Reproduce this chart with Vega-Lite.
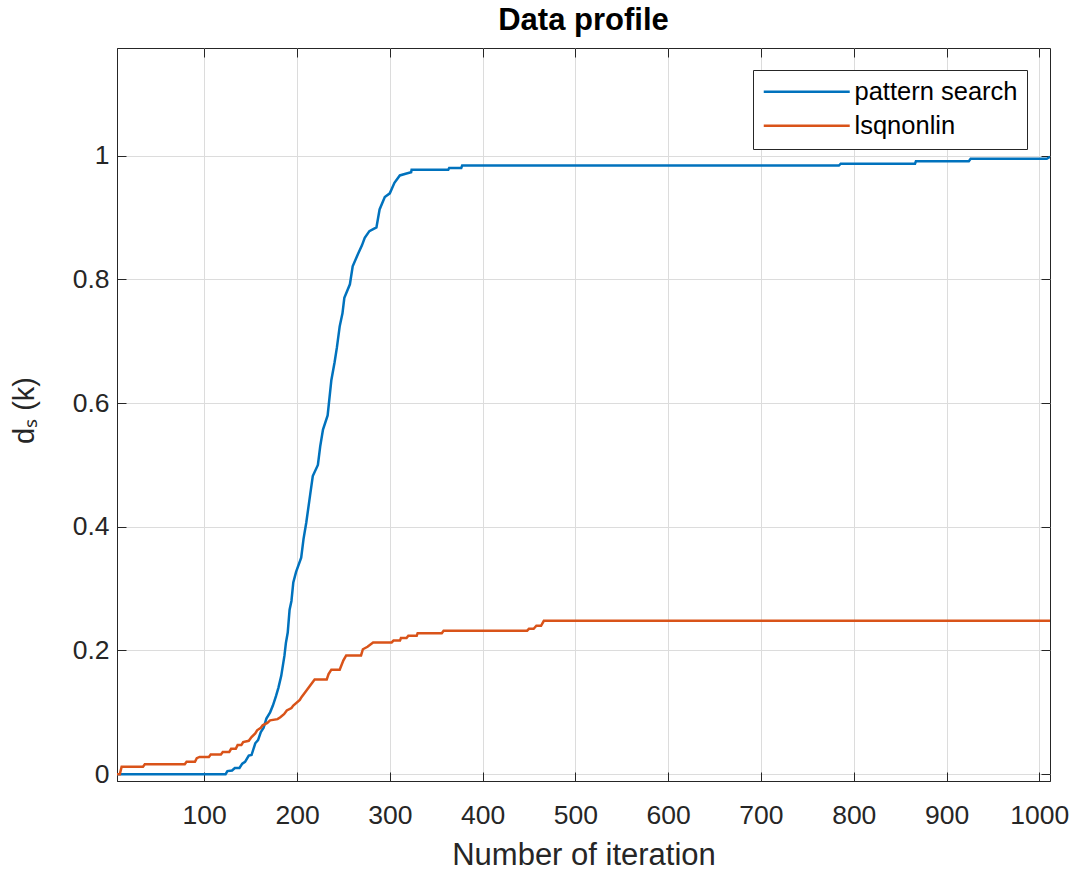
{
  "$schema": "https://vega.github.io/schema/vega-lite/v6.json",
  "width": 933,
  "height": 733,
  "autosize": {"type": "none"},
  "padding": {"left": 117, "top": 48, "right": 25, "bottom": 89},
  "background": "white",
  "title": {"text": "Data profile", "fontSize": 31, "fontWeight": "bold", "font": "Liberation Sans", "color": "#000000", "anchor": "middle", "offset": 11, "frame": "group"},
  "config": {
    "view": {"stroke": "#262626", "strokeWidth": 1},
    "font": "Liberation Sans",
    "axis": {"labelFont": "Liberation Sans", "titleFont": "Liberation Sans", "labelColor": "#262626", "titleColor": "#262626", "domainColor": "#262626", "tickColor": "#262626", "gridColor": "#dcdcdc", "gridWidth": 1, "titleFontWeight": "normal"}
  },
  "data": {"values": [
    {"method": "pattern search", "iter": 6, "ds": 0},
    {"method": "pattern search", "iter": 123, "ds": 0},
    {"method": "pattern search", "iter": 125, "ds": 0.005},
    {"method": "pattern search", "iter": 130, "ds": 0.006},
    {"method": "pattern search", "iter": 133, "ds": 0.01},
    {"method": "pattern search", "iter": 138, "ds": 0.01},
    {"method": "pattern search", "iter": 141, "ds": 0.017},
    {"method": "pattern search", "iter": 144, "ds": 0.02},
    {"method": "pattern search", "iter": 148, "ds": 0.03},
    {"method": "pattern search", "iter": 151, "ds": 0.031},
    {"method": "pattern search", "iter": 155, "ds": 0.05},
    {"method": "pattern search", "iter": 158, "ds": 0.055},
    {"method": "pattern search", "iter": 161, "ds": 0.068},
    {"method": "pattern search", "iter": 164, "ds": 0.075},
    {"method": "pattern search", "iter": 167, "ds": 0.09},
    {"method": "pattern search", "iter": 171, "ds": 0.1},
    {"method": "pattern search", "iter": 174, "ds": 0.111},
    {"method": "pattern search", "iter": 177.5, "ds": 0.127},
    {"method": "pattern search", "iter": 180, "ds": 0.14},
    {"method": "pattern search", "iter": 183, "ds": 0.159},
    {"method": "pattern search", "iter": 186.5, "ds": 0.192},
    {"method": "pattern search", "iter": 188, "ds": 0.212},
    {"method": "pattern search", "iter": 190, "ds": 0.229},
    {"method": "pattern search", "iter": 192, "ds": 0.266},
    {"method": "pattern search", "iter": 194, "ds": 0.28},
    {"method": "pattern search", "iter": 196, "ds": 0.31},
    {"method": "pattern search", "iter": 199, "ds": 0.327},
    {"method": "pattern search", "iter": 204.5, "ds": 0.35},
    {"method": "pattern search", "iter": 207, "ds": 0.38},
    {"method": "pattern search", "iter": 210, "ds": 0.407},
    {"method": "pattern search", "iter": 214, "ds": 0.45},
    {"method": "pattern search", "iter": 217, "ds": 0.482},
    {"method": "pattern search", "iter": 222.5, "ds": 0.5},
    {"method": "pattern search", "iter": 225, "ds": 0.53},
    {"method": "pattern search", "iter": 228, "ds": 0.557},
    {"method": "pattern search", "iter": 233, "ds": 0.58},
    {"method": "pattern search", "iter": 237, "ds": 0.637},
    {"method": "pattern search", "iter": 240.5, "ds": 0.666},
    {"method": "pattern search", "iter": 243, "ds": 0.69},
    {"method": "pattern search", "iter": 246, "ds": 0.724},
    {"method": "pattern search", "iter": 249, "ds": 0.745},
    {"method": "pattern search", "iter": 251, "ds": 0.77},
    {"method": "pattern search", "iter": 257, "ds": 0.792},
    {"method": "pattern search", "iter": 260, "ds": 0.821},
    {"method": "pattern search", "iter": 265.7, "ds": 0.841},
    {"method": "pattern search", "iter": 270, "ds": 0.855},
    {"method": "pattern search", "iter": 273, "ds": 0.867},
    {"method": "pattern search", "iter": 278, "ds": 0.878},
    {"method": "pattern search", "iter": 285.6, "ds": 0.884},
    {"method": "pattern search", "iter": 289, "ds": 0.913},
    {"method": "pattern search", "iter": 294.6, "ds": 0.933},
    {"method": "pattern search", "iter": 300, "ds": 0.939},
    {"method": "pattern search", "iter": 305, "ds": 0.956},
    {"method": "pattern search", "iter": 310.8, "ds": 0.968},
    {"method": "pattern search", "iter": 318, "ds": 0.971},
    {"method": "pattern search", "iter": 323, "ds": 0.973},
    {"method": "pattern search", "iter": 323.5, "ds": 0.977},
    {"method": "pattern search", "iter": 363, "ds": 0.977},
    {"method": "pattern search", "iter": 364, "ds": 0.98},
    {"method": "pattern search", "iter": 377, "ds": 0.98},
    {"method": "pattern search", "iter": 378, "ds": 0.984},
    {"method": "pattern search", "iter": 784, "ds": 0.984},
    {"method": "pattern search", "iter": 786, "ds": 0.987},
    {"method": "pattern search", "iter": 866, "ds": 0.987},
    {"method": "pattern search", "iter": 867, "ds": 0.991},
    {"method": "pattern search", "iter": 924, "ds": 0.991},
    {"method": "pattern search", "iter": 926, "ds": 0.995},
    {"method": "pattern search", "iter": 1008, "ds": 0.995},
    {"method": "pattern search", "iter": 1011.5, "ds": 0.998},
    {"method": "lsqnonlin", "iter": 6, "ds": 0},
    {"method": "lsqnonlin", "iter": 9, "ds": 0},
    {"method": "lsqnonlin", "iter": 11, "ds": 0.012},
    {"method": "lsqnonlin", "iter": 34, "ds": 0.012},
    {"method": "lsqnonlin", "iter": 36, "ds": 0.016},
    {"method": "lsqnonlin", "iter": 79, "ds": 0.016},
    {"method": "lsqnonlin", "iter": 81, "ds": 0.02},
    {"method": "lsqnonlin", "iter": 90, "ds": 0.02},
    {"method": "lsqnonlin", "iter": 92, "ds": 0.026},
    {"method": "lsqnonlin", "iter": 95, "ds": 0.028},
    {"method": "lsqnonlin", "iter": 105, "ds": 0.028},
    {"method": "lsqnonlin", "iter": 107, "ds": 0.032},
    {"method": "lsqnonlin", "iter": 118, "ds": 0.032},
    {"method": "lsqnonlin", "iter": 120, "ds": 0.036},
    {"method": "lsqnonlin", "iter": 127, "ds": 0.036},
    {"method": "lsqnonlin", "iter": 129, "ds": 0.041},
    {"method": "lsqnonlin", "iter": 134, "ds": 0.041},
    {"method": "lsqnonlin", "iter": 136, "ds": 0.047},
    {"method": "lsqnonlin", "iter": 140, "ds": 0.047},
    {"method": "lsqnonlin", "iter": 142, "ds": 0.052},
    {"method": "lsqnonlin", "iter": 148, "ds": 0.054},
    {"method": "lsqnonlin", "iter": 151, "ds": 0.06},
    {"method": "lsqnonlin", "iter": 155, "ds": 0.066},
    {"method": "lsqnonlin", "iter": 157, "ds": 0.071},
    {"method": "lsqnonlin", "iter": 161, "ds": 0.075},
    {"method": "lsqnonlin", "iter": 163, "ds": 0.079},
    {"method": "lsqnonlin", "iter": 168, "ds": 0.083},
    {"method": "lsqnonlin", "iter": 171, "ds": 0.087},
    {"method": "lsqnonlin", "iter": 179, "ds": 0.089},
    {"method": "lsqnonlin", "iter": 182, "ds": 0.092},
    {"method": "lsqnonlin", "iter": 186, "ds": 0.097},
    {"method": "lsqnonlin", "iter": 189, "ds": 0.103},
    {"method": "lsqnonlin", "iter": 194, "ds": 0.107},
    {"method": "lsqnonlin", "iter": 196, "ds": 0.111},
    {"method": "lsqnonlin", "iter": 203, "ds": 0.12},
    {"method": "lsqnonlin", "iter": 205, "ds": 0.125},
    {"method": "lsqnonlin", "iter": 210, "ds": 0.135},
    {"method": "lsqnonlin", "iter": 214, "ds": 0.143},
    {"method": "lsqnonlin", "iter": 219, "ds": 0.153},
    {"method": "lsqnonlin", "iter": 232, "ds": 0.153},
    {"method": "lsqnonlin", "iter": 234, "ds": 0.162},
    {"method": "lsqnonlin", "iter": 237, "ds": 0.169},
    {"method": "lsqnonlin", "iter": 246, "ds": 0.169},
    {"method": "lsqnonlin", "iter": 250, "ds": 0.184},
    {"method": "lsqnonlin", "iter": 253, "ds": 0.192},
    {"method": "lsqnonlin", "iter": 269, "ds": 0.192},
    {"method": "lsqnonlin", "iter": 271, "ds": 0.202},
    {"method": "lsqnonlin", "iter": 276, "ds": 0.206},
    {"method": "lsqnonlin", "iter": 282, "ds": 0.213},
    {"method": "lsqnonlin", "iter": 302, "ds": 0.213},
    {"method": "lsqnonlin", "iter": 304, "ds": 0.216},
    {"method": "lsqnonlin", "iter": 311, "ds": 0.216},
    {"method": "lsqnonlin", "iter": 312, "ds": 0.22},
    {"method": "lsqnonlin", "iter": 318, "ds": 0.22},
    {"method": "lsqnonlin", "iter": 320, "ds": 0.224},
    {"method": "lsqnonlin", "iter": 329, "ds": 0.224},
    {"method": "lsqnonlin", "iter": 330, "ds": 0.228},
    {"method": "lsqnonlin", "iter": 356, "ds": 0.228},
    {"method": "lsqnonlin", "iter": 358, "ds": 0.232},
    {"method": "lsqnonlin", "iter": 448, "ds": 0.232},
    {"method": "lsqnonlin", "iter": 450, "ds": 0.235},
    {"method": "lsqnonlin", "iter": 455, "ds": 0.235},
    {"method": "lsqnonlin", "iter": 458, "ds": 0.24},
    {"method": "lsqnonlin", "iter": 463, "ds": 0.24},
    {"method": "lsqnonlin", "iter": 466, "ds": 0.248},
    {"method": "lsqnonlin", "iter": 1011.5, "ds": 0.248}
  ]},
  "layer": [
    {
      "mark": {"type": "line", "strokeWidth": 2.5, "clip": true},
      "encoding": {
        "x": {"field": "iter", "type": "quantitative", "scale": {"domain": [6, 1011.5], "nice": false, "zero": false},
          "axis": {"orient": "bottom", "values": [100, 200, 300, 400, 500, 600, 700, 800, 900, 1000], "format": "d", "grid": true, "tickSize": -9, "labelFontSize": 26.5, "labelPadding": 30, "title": "Number of iteration", "titleFontSize": 31, "titleBaseline": "alphabetic", "titleY": 83, "titleAnchor": "middle"}},
        "y": {"field": "ds", "type": "quantitative", "scale": {"domain": [-0.011, 1.174], "nice": false, "zero": false},
          "axis": {"orient": "left", "values": [0, 0.2, 0.4, 0.6, 0.8, 1], "format": "~g", "grid": true, "tickSize": -9, "labelFontSize": 26.5, "labelPadding": 17, "title": "dₛ (k)", "titleFontSize": 29, "titleAngle": -90, "titleBaseline": "alphabetic", "titleAlign": "center", "titleX": -84, "titleY": 362}},
        "color": {"field": "method", "type": "nominal", "sort": ["pattern search", "lsqnonlin"],
          "scale": {"domain": ["pattern search", "lsqnonlin"], "range": ["#0072BD", "#D95319"]},
          "legend": {"title": null, "orient": "none", "legendX": 636, "legendY": 22, "symbolType": "M0,0H8", "symbolSize": 462, "symbolStrokeWidth": 2.5, "symbolOffset": -11, "labelFontSize": 25.5, "labelColor": "#000000", "labelFont": "Liberation Sans", "labelOffset": 78, "labelLimit": 400, "rowPadding": 7, "padding": 9, "strokeColor": "#262626", "fillColor": "white", "cornerRadius": 0}}
      }
    },
    {
      "mark": {"type": "line", "strokeOpacity": 0},
      "encoding": {
        "x": {"field": "iter", "type": "quantitative", "axis": {"orient": "top", "values": [100, 200, 300, 400, 500, 600, 700, 800, 900, 1000], "labels": false, "grid": false, "domain": false, "tickSize": -9, "title": null}},
        "y": {"field": "ds", "type": "quantitative", "axis": {"orient": "right", "values": [0, 0.2, 0.4, 0.6, 0.8, 1], "labels": false, "grid": false, "domain": false, "tickSize": -9, "title": null}},
        "detail": {"field": "method", "type": "nominal"}
      }
    }
  ],
  "resolve": {"axis": {"x": "independent", "y": "independent"}}
}
